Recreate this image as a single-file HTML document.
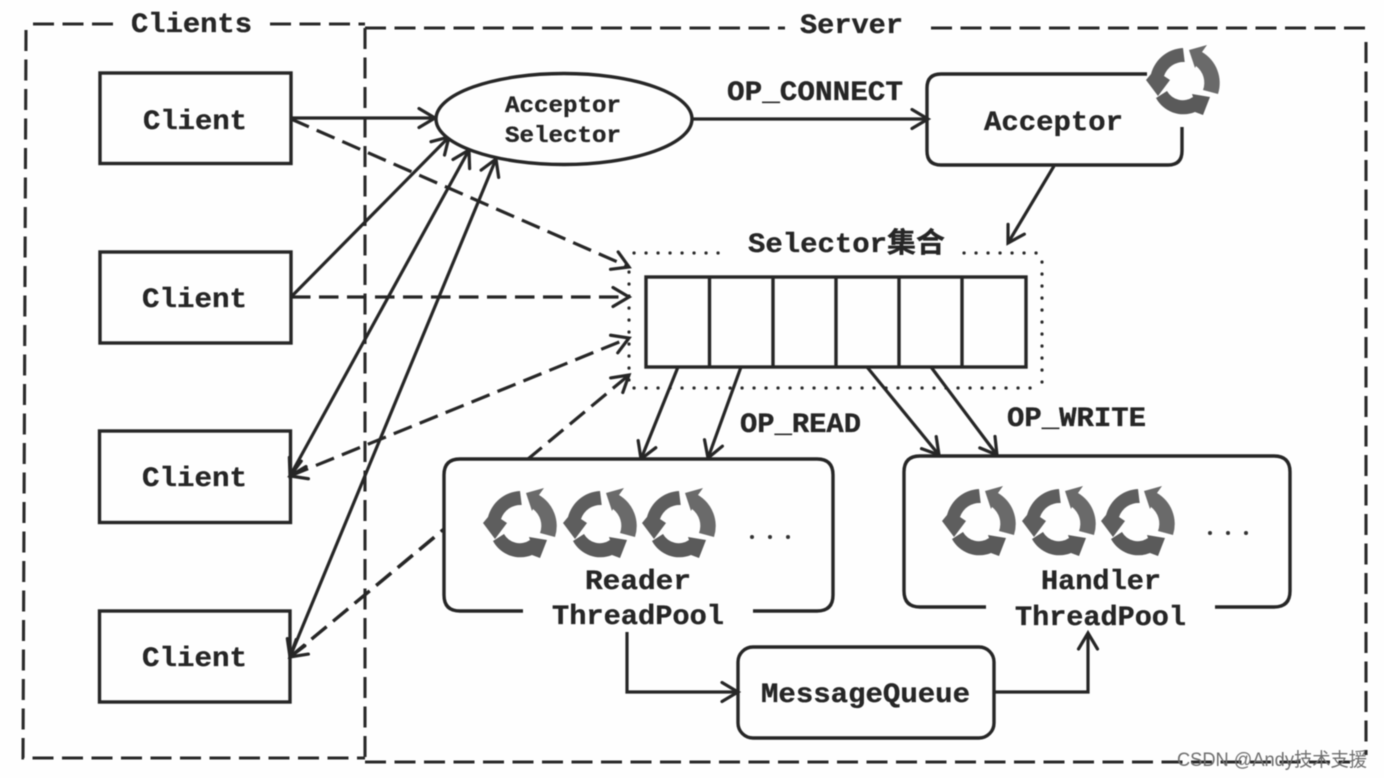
<!DOCTYPE html>
<html><head><meta charset="utf-8"><style>
html,body{margin:0;padding:0;background:#fefefe;width:1384px;height:778px;overflow:hidden}
svg{display:block;filter:blur(.5px)}
text{font-family:"Liberation Mono","Noto Sans CJK SC",monospace;font-weight:bold;fill:#262626;stroke:#262626;stroke-width:.35;font-size:28px}
.b{fill:none;stroke:#262626;stroke-width:3.4}
.l{fill:none;stroke:#262626;stroke-width:3.2}
.d{fill:none;stroke:#262626;stroke-width:3.2;stroke-dasharray:19.500 8.500}
.o{fill:none;stroke:#2a2a2a;stroke-width:3.1;stroke-dasharray:21 8.500}
.p{fill:none;stroke:#2a2a2a;stroke-width:3.2;stroke-dasharray:.1 11.900;stroke-linecap:round}
</style></head><body>
<svg xmlns="http://www.w3.org/2000/svg" width="1384" height="778" viewBox="0 0 1384 778">
<defs>
<marker id="a" markerUnits="userSpaceOnUse" markerWidth="24" markerHeight="26" viewBox="-20 -13 24 26" refX="0" refY="0" orient="auto-start-reverse">
<path d="M-16,-9.500 L0,0 L-16,9.500" fill="none" stroke="#262626" stroke-width="3.200" stroke-linecap="round"/>
</marker>
<g id="c">
<path d="M0,-35 A35,35 0 0 0 -32,-9 L-37,-3 L-25,13 L-13,-3 L-19,-7 A20.500,20.500 0 0 1 1.700,-21 Z" fill="#5e5e5e"/>
<path d="M35,11 A36,36 0 0 0 19,-31 L24,-38 L6,-33 L12,-15 L13,-17 A21,21 0 0 1 20,7 Z" fill="#6a6a6a"/>
<path d="M-27,15 A31,31 0 0 0 12,29 L20,32 L27,14 L9,11 L10,14 A18,18 0 0 1 -16,8 Z" fill="#5a5a5a"/>
</g>
</defs>

<!-- outer dashed regions -->
<path class="o" d="M33,24 H113"/>
<path class="o" d="M270,24 H365"/>
<path class="o" d="M26,30 L23,758 H365"/>
<path class="o" d="M365,28 V762"/>
<path class="o" d="M365,28 H785"/>
<path class="o" d="M931,28 H1368"/>
<path class="o" d="M1366,42 V755"/>
<path class="o" d="M365,762 H1350"/>

<!-- dotted box -->
<path class="p" d="M634,253 H728"/>
<path class="p" d="M964,253 H1040"/>
<path class="p" d="M1042,262 V382"/>
<path class="p" d="M634,388 H1040"/>
<path class="p" d="M629,272 V380"/>

<!-- table -->
<rect class="b" x="646" y="277" width="380" height="90"/>
<path class="b" d="M709.500,277V367M773,277V367M836,277V367M899,277V367M962,277V367"/>

<!-- connectors -->
<path class="l" d="M291,118 H435" marker-end="url(#a)"/>
<path class="d" d="M291,119 L629,267" marker-end="url(#a)"/>
<path class="l" d="M291,297 L449,137" marker-end="url(#a)"/>
<path class="d" d="M291,297 H629" marker-end="url(#a)"/>
<path class="l" d="M290,476 L469,150" marker-start="url(#a)" marker-end="url(#a)"/>
<path class="l" d="M290,657 L496,159" marker-start="url(#a)" marker-end="url(#a)"/>
<path class="d" d="M290,476 L629,338" marker-end="url(#a)" marker-start="url(#a)"/>
<path class="d" d="M290,657 L629,375" marker-end="url(#a)" marker-start="url(#a)"/>
<path class="l" d="M692,119 H928" marker-end="url(#a)"/>
<path class="l" d="M1054,166 L1008,243" marker-end="url(#a)"/>
<path class="l" d="M678,367 L641,459" marker-end="url(#a)"/>
<path class="l" d="M741,367 L708,458" marker-end="url(#a)"/>
<path class="l" d="M867,367 L939,455" marker-end="url(#a)"/>
<path class="l" d="M931,367 L997,455" marker-end="url(#a)"/>
<path class="l" d="M627,632 V692 H738" marker-end="url(#a)"/>
<path class="l" d="M994,692 H1088 V633" marker-end="url(#a)"/>

<!-- client boxes -->
<rect class="b" x="100" y="73" width="191" height="90.500"/>
<rect class="b" x="100" y="252" width="191" height="91"/>
<rect class="b" x="99.500" y="431" width="191" height="91.500"/>
<rect class="b" x="99.500" y="611" width="190.500" height="91"/>
<text x="143" y="129" textLength="104" lengthAdjust="spacingAndGlyphs">Client</text>
<text x="142" y="307" textLength="105" lengthAdjust="spacingAndGlyphs">Client</text>
<text x="142" y="486" textLength="105" lengthAdjust="spacingAndGlyphs">Client</text>
<text x="142" y="666" textLength="105" lengthAdjust="spacingAndGlyphs">Client</text>

<!-- ellipse -->
<ellipse class="b" cx="564" cy="119" rx="128" ry="45.500" style="fill:#fefefe"/>
<text x="505" y="112" style="font-size:23px" textLength="116" lengthAdjust="spacingAndGlyphs">Acceptor</text>
<text x="505" y="142" style="font-size:23px" textLength="116" lengthAdjust="spacingAndGlyphs">Selector</text>

<!-- acceptor box -->
<path class="b" d="M1147,74 H941 Q927,74 927,88 V151 Q927,165 941,165 H1168 Q1182,165 1182,151 V127"/>
<text x="984" y="130" textLength="139" lengthAdjust="spacingAndGlyphs">Acceptor</text>
<use href="#c" x="1183" y="83"/>

<!-- reader box -->
<path class="b" d="M523,611 H460 Q444,611 444,595 V475 Q444,459 460,459 H817 Q833,459 833,475 V595 Q833,611 817,611 H753" style="fill:#fefefe"/>
<path class="d" d="M290,657 L441,532"/>
<use href="#c" x="520" y="526"/>
<use href="#c" x="600" y="526"/>
<use href="#c" x="679" y="526"/>
<circle cx="752" cy="537" r="2" fill="#333"/><circle cx="770" cy="537" r="2" fill="#333"/><circle cx="788" cy="537" r="2" fill="#333"/>
<text x="585" y="589" textLength="106" lengthAdjust="spacingAndGlyphs">Reader</text>
<text x="552" y="624" textLength="172" lengthAdjust="spacingAndGlyphs">ThreadPool</text>

<!-- handler box -->
<path class="b" d="M986,607 H920 Q904,607 904,591 V472 Q904,456 920,456 H1274 Q1290,456 1290,472 V591 Q1290,607 1274,607 H1215"/>
<use href="#c" x="979" y="524"/>
<use href="#c" x="1059" y="524"/>
<use href="#c" x="1138" y="524"/>
<circle cx="1210" cy="533" r="2" fill="#333"/><circle cx="1228" cy="533" r="2" fill="#333"/><circle cx="1246" cy="533" r="2" fill="#333"/>
<text x="1041" y="589" textLength="120" lengthAdjust="spacingAndGlyphs">Handler</text>
<text x="1015" y="625" textLength="171" lengthAdjust="spacingAndGlyphs">ThreadPool</text>

<!-- message queue -->
<rect class="b" x="738" y="647" width="256" height="91" rx="15"/>
<text x="761" y="702" textLength="209" lengthAdjust="spacingAndGlyphs">MessageQueue</text>

<!-- labels -->
<text x="131" y="32" textLength="121" lengthAdjust="spacingAndGlyphs">Clients</text>
<text x="800" y="33" textLength="103" lengthAdjust="spacingAndGlyphs">Server</text>
<text x="727" y="100" textLength="176" lengthAdjust="spacingAndGlyphs">OP_CONNECT</text>
<text x="748" y="252" textLength="197" lengthAdjust="spacingAndGlyphs">Selector集合</text>
<text x="740" y="432" textLength="121" lengthAdjust="spacingAndGlyphs">OP_READ</text>
<text x="1007" y="426" textLength="139" lengthAdjust="spacingAndGlyphs">OP_WRITE</text>

<!-- watermark -->
<text x="1177" y="766" style="font-family:'Liberation Sans','Noto Sans CJK SC',sans-serif;font-weight:normal;font-size:19px;fill:#6e6e6e;stroke:none" textLength="190" lengthAdjust="spacingAndGlyphs">CSDN @Andy技术支援</text>
</svg>
</body></html>
